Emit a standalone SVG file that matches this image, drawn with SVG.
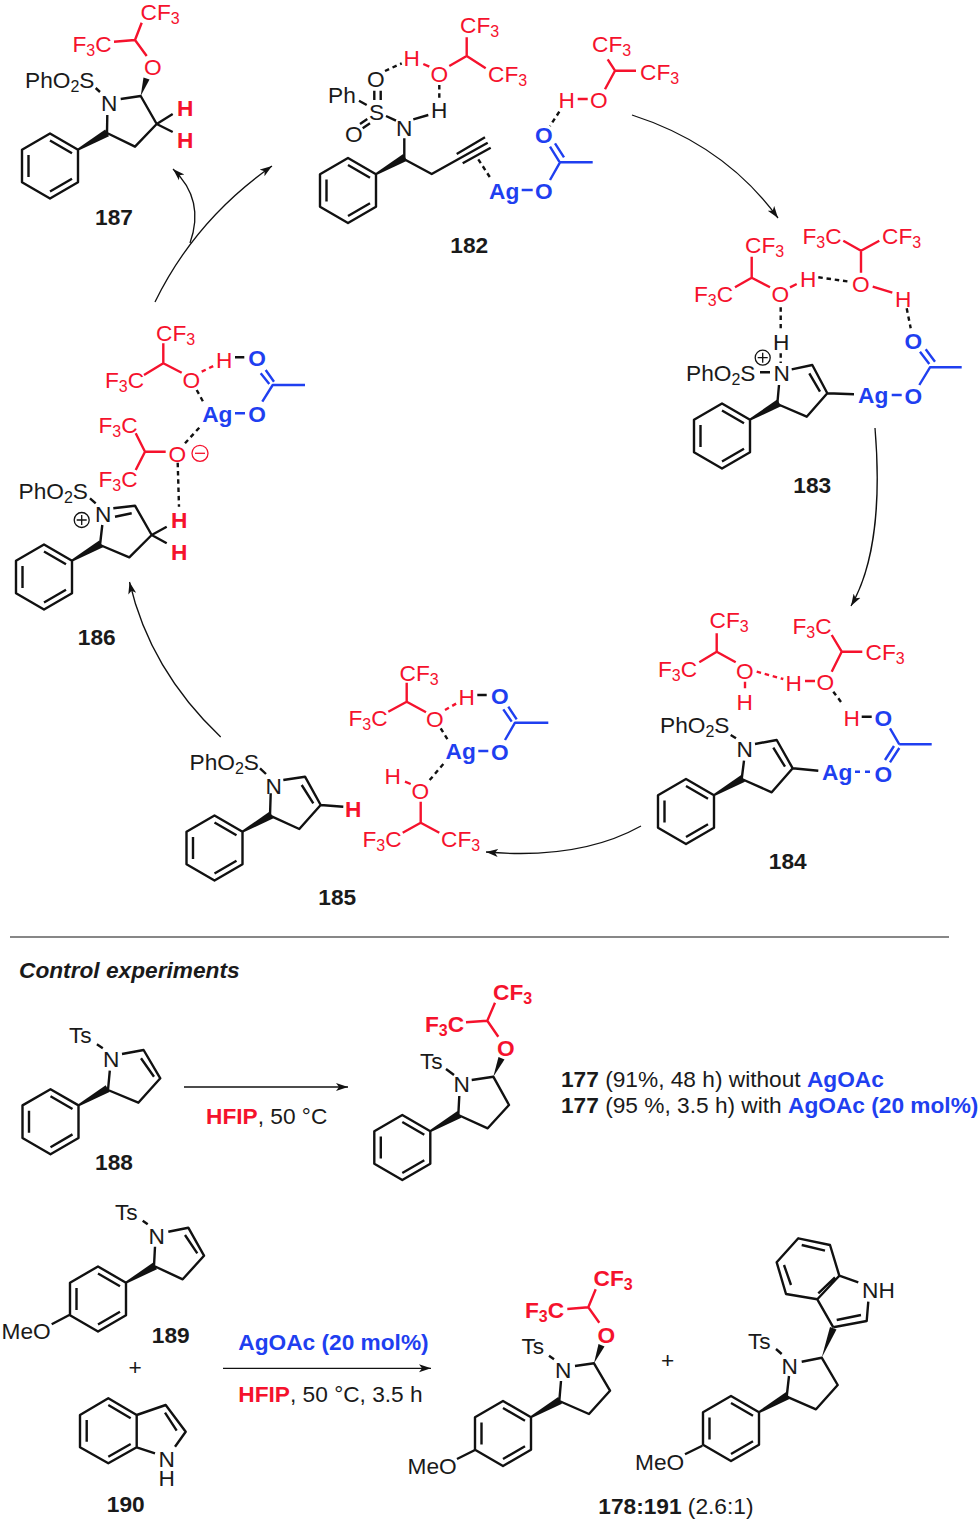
<svg xmlns="http://www.w3.org/2000/svg" xmlns:xlink="http://www.w3.org/1999/xlink" width="980" height="1523" viewBox="0 0 980 1523">
<style>
text{font-family:"Liberation Sans",Arial,sans-serif;font-size:22.7px;fill:#1a1a1a}
.s{font-size:16px}
.B{font-weight:700}
.R{fill:#f5122d}
.U{fill:#1f3ff0}
.b,.r,.u,.k,.dk,.dr,.du,.a{fill:none;stroke-width:2.4;stroke-linecap:butt;stroke-linejoin:round}
.b{stroke:#111}
.r{stroke:#f5122d}
.u{stroke:#1f3ff0}
.dk{stroke:#111;stroke-dasharray:4.5 3.8}
.dr{stroke:#f5122d;stroke-dasharray:4.5 3.8}
.du{stroke:#1f3ff0;stroke-dasharray:5 5}
.a{stroke:#111;stroke-width:1.3}
.w{fill:#111;stroke:none}
.lab{font-weight:700;text-anchor:middle}
.it{font-style:italic;font-weight:700}
</style>
<defs>
<marker id="ah" markerUnits="userSpaceOnUse" markerWidth="14" markerHeight="10" refX="12" refY="5" orient="auto"><path d="M0,1 L12,5 L0,9 L3,5 Z" fill="#111"/></marker>
<g id="ph"><path class="b" d="M0,-32.5L28,-16.3V16.3L0,32.5L-28,16.3V-16.3ZM-21.5,-11V11M0,-25.5L22,-12.7M0,25.5L22,12.7"/><polygon class="w" points="27.4,-17.2 28.6,-15.4 59,-29.8 55.2,-36.4"/></g>
</defs>

<g id="connectors">
<path class="a" d="M155,302Q195,220 272,166" marker-end="url(#ah)"/>
<path class="a" d="M190,243C200,215 195,190 173,169" marker-end="url(#ah)"/>
<path class="a" d="M632,115Q725,145 778,218" marker-end="url(#ah)"/>
<path class="a" d="M875,428C881,500 875,565 851,606" marker-end="url(#ah)"/>
<path class="a" d="M641,826Q580,860 486,852" marker-end="url(#ah)"/>
<path class="a" d="M220.7,737Q150,670 129.5,582" marker-end="url(#ah)"/>
<path class="a" d="M184,1087H348" marker-end="url(#ah)"/>
<path class="a" d="M223,1368.3H431" marker-end="url(#ah)"/>
<path d="M10,937H949" stroke="#111" stroke-width="1.2" fill="none"/>
</g>

<g id="n187">
<use href="#ph" x="50" y="166"/>
<path class="b" d="M107,133L107.3,115M120.7,99L140.7,96L156.7,124L135,146.7L107,133M95.7,88L100,92M156.7,124L172.7,114M156.7,124L172.7,132"/>
<polygon class="w" points="140.7,96 143.5,77.5 149.5,79.5"/>
<path class="r" d="M114,41.7L135,40L141.7,22.7M135,40L146.7,56"/>
<text x="25" y="88">PhO<tspan class="s" dy="4">2</tspan><tspan dy="-4">S</tspan></text>
<text x="101" y="111">N</text>
<text x="144" y="75" class="R">O</text>
<text x="72.5" y="52" class="R">F<tspan class="s" dy="4">3</tspan><tspan dy="-4">C</tspan></text>
<text x="140.5" y="20" class="R">CF<tspan class="s" dy="4">3</tspan></text>
<text x="177" y="116" class="R B">H</text>
<text x="177" y="148" class="R B">H</text>
<text x="114" y="225" class="lab">187</text>
</g>

<g id="n182">
<use href="#ph" x="348" y="190.5"/>
<path class="b" d="M359,100.7L366.7,105M374.3,90.7V100M380.7,90.7V100M360,124L367.3,119M362.7,128.3L370,123.3M386,116L396,120.7M413.3,119.3L428.3,115M404.3,138.3V159.3L431.7,174L487.7,142.7M456.7,154L485,137.3M462.7,163.3L490.7,147.7"/>
<path class="dk" d="M478.3,159.3L491.7,180M385,71L401.7,63.3M439.3,85V98.3M559.3,111.7L550,126"/>
<path class="u" d="M521.7,190H532.7M550,180L560,162.3H592.7M550,146.7L559.3,161.7M555,143.3L564,157.3"/>
<path class="r" d="M423.3,64L429.3,66.7M449.3,66L466.7,56V37.3M466.7,56L485.7,68.3M615,70.7L607.7,59.3M615,70.7H636M615,70.7L605,89.3M577.7,99H587.7"/>
<text x="328" y="102.5">Ph</text>
<text x="369" y="120">S</text>
<text x="367" y="87">O</text>
<text x="345" y="142">O</text>
<text x="396" y="135.5">N</text>
<text x="431" y="118">H</text>
<text x="489" y="199" class="U B">Ag</text>
<text x="535" y="199" class="U B">O</text>
<text x="535" y="143" class="U B">O</text>
<text x="403.5" y="66" class="R">H</text>
<text x="430.5" y="82" class="R">O</text>
<text x="460" y="33" class="R">CF<tspan class="s" dy="4">3</tspan></text>
<text x="488" y="82" class="R">CF<tspan class="s" dy="4">3</tspan></text>
<text x="592" y="52" class="R">CF<tspan class="s" dy="4">3</tspan></text>
<text x="640" y="80" class="R">CF<tspan class="s" dy="4">3</tspan></text>
<text x="590" y="108" class="R">O</text>
<text x="558.5" y="108" class="R">H</text>
<text x="469.3" y="253" class="lab">182</text>
</g>

<g id="n183">
<use href="#ph" x="722" y="436"/>
<path class="b" d="M760,372.3H770M791.7,369.3L812.3,365L827.3,393.3L806.7,416.7L777.3,404L779,385M809.3,373.3L820,391.7M827.3,393.3L854,394.3"/>
<path class="dk" d="M780.7,307.3V328.3M780.7,353.3V363M818.3,277.3L850,281.7M906.7,308.3L910.7,328.3"/>
<path class="u" d="M891.7,395H901.7M919.3,385L930,367.3H961.7M920,351.7L929.3,364M925.7,349.3L935,361.7"/>
<path class="r" d="M790,287.3L796.7,284M872.7,286.7L892.3,292.7M770,287.3L751.7,277.7V256.7M751.7,277.7L735,287.3M861,272.7V250.7L843.3,240.7M861,250.7L879.3,240.7"/>
<circle cx="762.7" cy="357.7" r="7.5" fill="none" stroke="#111" stroke-width="1.3"/>
<path d="M757.7,357.7H767.7M762.7,352.7V362.7" stroke="#111" stroke-width="1.3" fill="none"/>
<text x="686" y="380.7">PhO<tspan class="s" dy="4">2</tspan><tspan dy="-4">S</tspan></text>
<text x="773.5" y="381">N</text>
<text x="773" y="349.7">H</text>
<text x="858" y="403.3" class="U B">Ag</text>
<text x="904.5" y="404" class="U B">O</text>
<text x="904.5" y="349" class="U B">O</text>
<text x="771.5" y="301.5" class="R">O</text>
<text x="800" y="286.5" class="R">H</text>
<text x="852" y="292" class="R">O</text>
<text x="895" y="306.5" class="R">H</text>
<text x="745" y="253.3" class="R">CF<tspan class="s" dy="4">3</tspan></text>
<text x="694" y="301.7" class="R">F<tspan class="s" dy="4">3</tspan><tspan dy="-4">C</tspan></text>
<text x="802.5" y="244" class="R">F<tspan class="s" dy="4">3</tspan><tspan dy="-4">C</tspan></text>
<text x="882" y="244" class="R">CF<tspan class="s" dy="4">3</tspan></text>
<text x="812.3" y="493" class="lab">183</text>
</g>

<g id="n184">
<use href="#ph" x="686" y="811.5"/>
<path class="b" d="M730.7,735L736,738.3M755,744L776.7,740L792.7,768.3L771.7,792.3L741.7,779L744,760.7M773.3,747.7L785,766.7M792.7,768.3L818.3,770.7M861.7,716.7H871.7"/>
<path class="dk" d="M833.3,691.7L843.3,705"/>
<path class="dr" d="M756.7,671.7L783.3,679"/>
<path class="du" d="M855,771.7H873"/>
<path class="u" d="M885,760L894,746M890,762.3L899.3,748M899.3,744.3H931.7M899.3,744.3L890,728.3"/>
<path class="r" d="M805,681H815M745,681.7V688.3M735.7,662.3L716.7,651.7V633.3M716.7,651.7L699.3,662.3M841.7,651.7L831.7,671.7M841.7,651.7L831.7,635M841.7,651.7H862.3"/>
<text x="660" y="733.3">PhO<tspan class="s" dy="4">2</tspan><tspan dy="-4">S</tspan></text>
<text x="736.5" y="756.5">N</text>
<text x="822" y="780" class="U B">Ag</text>
<text x="874.5" y="781.5" class="U B">O</text>
<text x="874.5" y="725.5" class="U B">O</text>
<text x="843.5" y="725.5" class="R">H</text>
<text x="816.5" y="690" class="R">O</text>
<text x="785.5" y="690.5" class="R">H</text>
<text x="736" y="679" class="R">O</text>
<text x="736.5" y="710" class="R">H</text>
<text x="709.5" y="628.3" class="R">CF<tspan class="s" dy="4">3</tspan></text>
<text x="658" y="677.3" class="R">F<tspan class="s" dy="4">3</tspan><tspan dy="-4">C</tspan></text>
<text x="792.5" y="634" class="R">F<tspan class="s" dy="4">3</tspan><tspan dy="-4">C</tspan></text>
<text x="865.5" y="660" class="R">CF<tspan class="s" dy="4">3</tspan></text>
<text x="787.7" y="868.7" class="lab">184</text>
</g>

<g id="n185">
<use href="#ph" x="214.5" y="848"/>
<path class="b" d="M260,768.3L266,774M283.3,780L305,776.7L320.7,805L299.3,829L270,815.7L270.7,793.3M301.7,785L313.3,803.3M320.7,805L343.3,806.7M477.3,695H486.7"/>
<path class="dr" d="M445,710L456.7,703.3"/>
<path class="dk" d="M440.7,728.3L448.3,740.7M443.3,764L428.3,781.7"/>
<path class="u" d="M503.3,709.3L511.7,721.7M508.3,706.7L516.7,719.3M548.3,722.7H515L505,740M478.3,751H488.3"/>
<path class="r" d="M405,781.7L410.7,784M426,712.3L406.7,701.7V682.7M406.7,701.7L388.3,711.7M420.7,801.7V822.7L402.7,832.7M420.7,822.7L439.3,832.7"/>
<text x="189.5" y="770">PhO<tspan class="s" dy="4">2</tspan><tspan dy="-4">S</tspan></text>
<text x="265.5" y="794">N</text>
<text x="345" y="816.5" class="R B">H</text>
<text x="426" y="726.5" class="R">O</text>
<text x="458.5" y="705" class="R">H</text>
<text x="491" y="703.5" class="U B">O</text>
<text x="491" y="760" class="U B">O</text>
<text x="445.5" y="759.3" class="U B">Ag</text>
<text x="411.5" y="799" class="R">O</text>
<text x="384.5" y="784" class="R">H</text>
<text x="399.5" y="680.7" class="R">CF<tspan class="s" dy="4">3</tspan></text>
<text x="348.5" y="726" class="R">F<tspan class="s" dy="4">3</tspan><tspan dy="-4">C</tspan></text>
<text x="362.5" y="846.7" class="R">F<tspan class="s" dy="4">3</tspan><tspan dy="-4">C</tspan></text>
<text x="441" y="846.7" class="R">CF<tspan class="s" dy="4">3</tspan></text>
<text x="337.3" y="905" class="lab">185</text>
</g>

<g id="n186">
<use href="#ph" x="44" y="577"/>
<path class="b" d="M90,498.3L95.7,503.3M113.3,508.3L135,505.7L151.7,535L129.3,557.3L100,545L102.3,525M115,516.7L131.7,513.3M151.7,535L166.7,526.7M151.7,535L166.7,543.3M235,357.3H244.3"/>
<path class="dk" d="M177.7,462.7L179,506.7M185,443.3L201.7,425M196.7,390L204,403.3"/>
<path class="dr" d="M201.7,371.7L213.3,366"/>
<path class="u" d="M235,413.3H245M262.3,401.7L272.7,385H305M260.7,373.3L269.3,384M265.7,370L274,381.7"/>
<path class="r" d="M165.7,451.7H145L135.7,433.3M145,451.7L135.7,470M181.7,372.7L163.3,363.3V343.3M163.3,363.3L144,375"/>
<circle cx="81.7" cy="520" r="7.5" fill="none" stroke="#111" stroke-width="1.3"/>
<path d="M76.7,520H86.7M81.7,515V525" stroke="#111" stroke-width="1.3" fill="none"/>
<circle cx="200" cy="453.3" r="8" fill="none" stroke="#f5122d" stroke-width="1.3"/>
<path d="M195,453.3H205" stroke="#f5122d" stroke-width="1.3" fill="none"/>
<text x="18.5" y="499">PhO<tspan class="s" dy="4">2</tspan><tspan dy="-4">S</tspan></text>
<text x="95" y="522">N</text>
<text x="171" y="528" class="R B">H</text>
<text x="171" y="560" class="R B">H</text>
<text x="168.5" y="461.5" class="R">O</text>
<text x="98.5" y="432.7" class="R">F<tspan class="s" dy="4">3</tspan><tspan dy="-4">C</tspan></text>
<text x="98.5" y="486.7" class="R">F<tspan class="s" dy="4">3</tspan><tspan dy="-4">C</tspan></text>
<text x="202.2" y="421.7" class="U B">Ag</text>
<text x="248.3" y="421.5" class="U B">O</text>
<text x="248.3" y="365.7" class="U B">O</text>
<text x="216" y="367.5" class="R">H</text>
<text x="182.5" y="388" class="R">O</text>
<text x="156" y="340.7" class="R">CF<tspan class="s" dy="4">3</tspan></text>
<text x="105" y="388.3" class="R">F<tspan class="s" dy="4">3</tspan><tspan dy="-4">C</tspan></text>
<text x="96.7" y="645" class="lab">186</text>
</g>

<g id="control-title">
<text x="19" y="978" class="it">Control experiments</text>
</g>

<g id="n188">
<use href="#ph" x="50.5" y="1121.7"/>
<path class="b" d="M96.9,1044.3L102.8,1048.3M122,1054L143.6,1050L160.3,1078.3L138.3,1102.7L108,1090L109.8,1070.7M141,1058.3L154,1076.7"/>
<text x="69" y="1043.3">Ts</text>
<text x="103" y="1067">N</text>
<text x="114" y="1170" class="lab">188</text>
</g>

<g id="cond-1">
<text x="206" y="1124.3"><tspan class="R B">HFIP</tspan>, 50 °C</text>
</g>

<g id="n177">
<use href="#ph" x="402.3" y="1147.5"/>
<path class="b" d="M458.3,1115L459.3,1096M471.7,1080L493.3,1076.7L509,1105L487.7,1128.3L458.3,1115M446,1069L454,1075"/>
<polygon class="w" points="493.3,1076.7 498.5,1057 504.5,1059.5"/>
<path class="r" d="M466,1022.3L487.3,1020.7L495,1002.7M487.3,1020.7L498.3,1036.7"/>
<text x="420" y="1069">Ts</text>
<text x="453.5" y="1092">N</text>
<text x="497" y="1056" class="R B">O</text>
<text x="425" y="1031.7" class="R B">F<tspan class="s" dy="4">3</tspan><tspan dy="-4">C</tspan></text>
<text x="493" y="999.5" class="R B">CF<tspan class="s" dy="4">3</tspan></text>
</g>

<g id="yields">
<text x="561" y="1087"><tspan class="B">177</tspan> (91%, 48 h) without <tspan class="U B">AgOAc</tspan></text>
<text x="561" y="1113"><tspan class="B">177</tspan> (95 %, 3.5 h) with <tspan class="U B">AgOAc (20 mol%)</tspan></text>
</g>

<g id="n189">
<use href="#ph" x="98" y="1299"/>
<path class="b" d="M142.7,1220.7L147.7,1224.3M168.3,1231.7L188.3,1227.7L204,1255.7L182.7,1279.3L154,1266L155,1246.7M185,1235L197.3,1253.3M69.3,1315L51.7,1324.3"/>
<text x="115" y="1220">Ts</text>
<text x="148.5" y="1244">N</text>
<text x="1.5" y="1339">MeO</text>
<text x="170.7" y="1343" class="lab">189</text>
</g>
<g id="plus-1"><text x="135" y="1375" text-anchor="middle">+</text></g>

<g id="n190">
<path class="b" d="M108.3,1398.3L136.7,1415V1447.3L108.3,1463.3L80,1447.3V1415ZM86.7,1420V1441.7M108.3,1405L130.7,1418.3M108.3,1456.7L130.7,1444M136.7,1415L165.7,1405L185.7,1431.7L175,1446.7M165,1412.7L176.7,1430.7M136.7,1447.3L155,1453.3"/>
<text x="158.5" y="1466.5">N<tspan x="158.5" dy="19">H</tspan></text>
<text x="125.7" y="1512" class="lab">190</text>
</g>

<g id="cond-2">
<text x="238.3" y="1350" class="U B">AgOAc (20 mol%)</text>
<text x="238.3" y="1402.3"><tspan class="R B">HFIP</tspan>, 50 °C, 3.5 h</text>
</g>

<g id="n178">
<use href="#ph" x="503" y="1433.5"/>
<path class="b" d="M549,1355.7L554,1359.3M575,1366L594,1363.3L610,1390.7L589,1414L559.3,1401L561,1381M475,1450L457,1459"/>
<polygon class="w" points="594,1363.3 598.5,1344 604.5,1346.5"/>
<path class="r" d="M567.3,1309L588.3,1307.3L595.7,1289.3M588.3,1307.3L599.3,1322.7"/>
<text x="521.5" y="1354.3">Ts</text>
<text x="555" y="1378">N</text>
<text x="597.5" y="1342.5" class="R B">O</text>
<text x="525" y="1318.3" class="R B">F<tspan class="s" dy="4">3</tspan><tspan dy="-4">C</tspan></text>
<text x="593.5" y="1286" class="R B">CF<tspan class="s" dy="4">3</tspan></text>
<text x="407.5" y="1474">MeO</text>
</g>
<g id="plus-2"><text x="667.7" y="1368" text-anchor="middle">+</text></g>

<g id="n191">
<use href="#ph" x="731" y="1428.5"/>
<path class="b" d="M776,1349L781.7,1354M801.7,1361.7L821.7,1357.7L837.7,1385L816,1409.3L786.7,1396.7L789,1376M702.3,1445.7L685,1454.3M833.3,1327.3L866.7,1321L868.3,1301.7M836.7,1320L861,1315M833.3,1327.3L817.3,1299.3L839.3,1275.7L858.3,1282.3M839.3,1275.7L830,1245L798.3,1238.3L776.7,1262.3L786,1294L817.3,1299.3M801.7,1245L825,1250.7M784,1265L791,1285M818.3,1293.3L835,1277.3"/>
<polygon class="w" points="821.7,1357.7 830,1327 836.5,1329.5"/>
<text x="748" y="1349.3">Ts</text>
<text x="781.5" y="1374">N</text>
<text x="862" y="1297.7">NH</text>
<text x="635" y="1470">MeO</text>
</g>

<g id="ratio">
<text x="598.3" y="1514.3"><tspan class="B">178:191</tspan> (2.6:1)</text>
</g>
</svg>
